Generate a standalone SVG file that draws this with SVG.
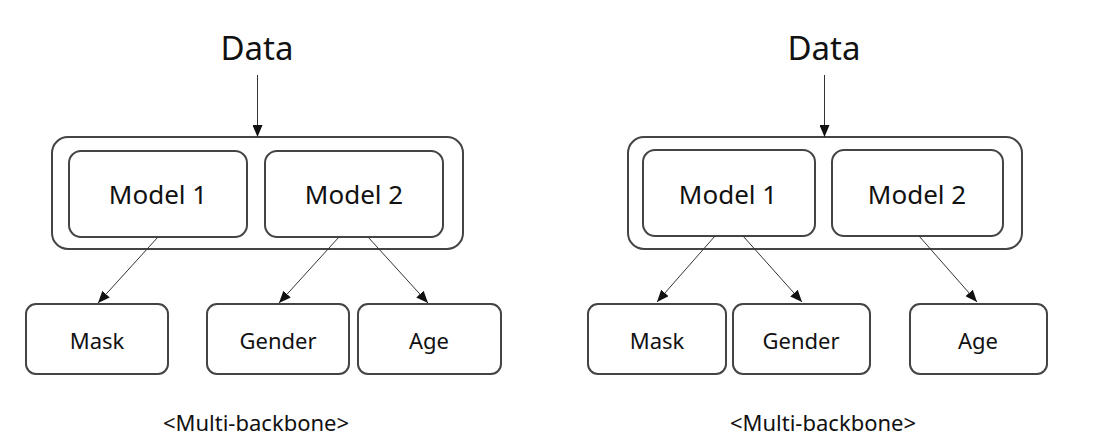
<svg xmlns="http://www.w3.org/2000/svg" width="1104" height="448" viewBox="0 0 1104 448">
<style>
.box{fill:#fff;stroke:#444;stroke-width:2}
.t{font-family:"Noto Sans","Open Sans",sans-serif;fill:#111;text-anchor:middle}
.big{font-size:33px}
.mid{font-size:26px}
.sm{font-size:22px}
.cap{font-size:22px}
.edge{stroke:#333;stroke-width:1;fill:none;marker-end:url(#ah)}
</style>
<defs>
<marker id="ah" viewBox="0 0 12 10" refX="12" refY="5" markerWidth="12" markerHeight="10" markerUnits="userSpaceOnUse" orient="auto">
<path d="M0,0 L12,5 L0,10 z" fill="#111"/>
</marker>
</defs>
<rect width="1104" height="448" fill="#fff"/>

<!-- Left panel -->
<g id="L-data"><text class="t big" x="257" y="60">Data</text></g>
<g id="L-backbone"><rect class="box" x="52" y="137" width="411" height="112" rx="16"/></g>
<g id="L-model1"><rect class="box" x="69" y="151" width="178" height="86" rx="12"/><text class="t mid" x="158" y="204">Model 1</text></g>
<g id="L-model2"><rect class="box" x="265" y="151" width="178" height="86" rx="12"/><text class="t mid" x="354" y="204">Model 2</text></g>
<g id="L-mask"><rect class="box" x="26" y="304" width="142" height="70" rx="10"/><text class="t sm" x="97" y="349">Mask</text></g>
<g id="L-gender"><rect class="box" x="207" y="304" width="142" height="70" rx="10"/><text class="t sm" x="278" y="349">Gender</text></g>
<g id="L-age"><rect class="box" x="358" y="304" width="143" height="70" rx="10"/><text class="t sm" x="429" y="349">Age</text></g>
<g id="L-caption"><text class="t cap" x="256" y="431">&lt;Multi-backbone&gt;</text></g>

<!-- Right panel -->
<g id="R-data"><text class="t big" x="824" y="60">Data</text></g>
<g id="R-backbone"><rect class="box" x="628" y="137" width="394" height="112" rx="16"/></g>
<g id="R-model1"><rect class="box" x="643" y="150" width="172" height="86" rx="12"/><text class="t mid" x="728" y="204">Model 1</text></g>
<g id="R-model2"><rect class="box" x="832" y="150" width="171" height="86" rx="12"/><text class="t mid" x="917" y="204">Model 2</text></g>
<g id="R-mask"><rect class="box" x="588" y="304" width="138" height="70" rx="10"/><text class="t sm" x="657" y="349">Mask</text></g>
<g id="R-gender"><rect class="box" x="733" y="304" width="137" height="70" rx="10"/><text class="t sm" x="801" y="349">Gender</text></g>
<g id="R-age"><rect class="box" x="910" y="304" width="137" height="70" rx="10"/><text class="t sm" x="978" y="349">Age</text></g>
<g id="R-caption"><text class="t cap" x="823" y="431">&lt;Multi-backbone&gt;</text></g>

<g id="connectors">
<line class="edge" x1="257.5" y1="75" x2="257.5" y2="137"/>
<line class="edge" x1="158" y1="237" x2="98" y2="303"/>
<line class="edge" x1="339" y1="237" x2="279" y2="303"/>
<line class="edge" x1="368" y1="237" x2="428" y2="303"/>
<line class="edge" x1="824.5" y1="75" x2="824.5" y2="137"/>
<line class="edge" x1="715" y1="236" x2="657" y2="302"/>
<line class="edge" x1="743" y1="236" x2="802" y2="302"/>
<line class="edge" x1="919" y1="236" x2="977" y2="302"/>
</g>
</svg>
